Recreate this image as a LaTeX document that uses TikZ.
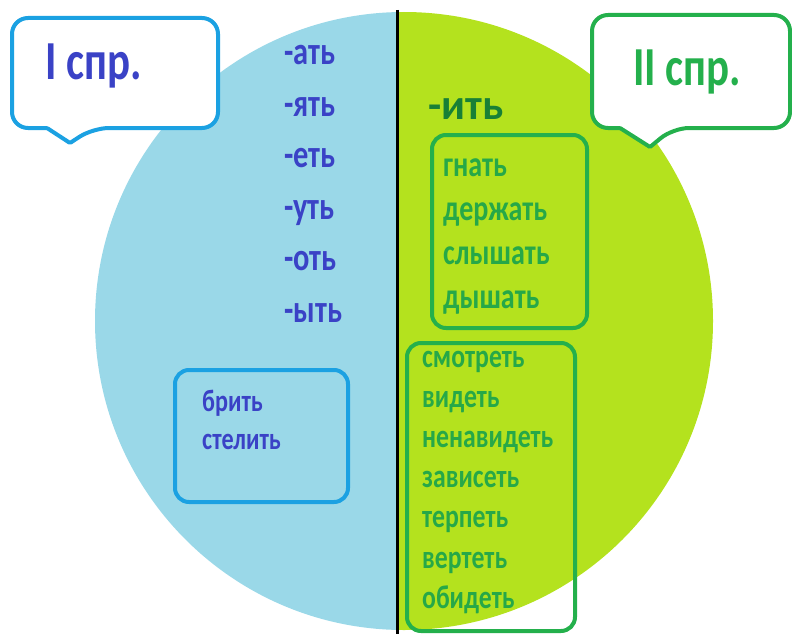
\documentclass[tikz,border=0pt]{standalone}
\usepackage{fontspec}
\setmainfont{Carlito}[FakeStretch=0.78]
\newfontfamily\widefont{Carlito}
\usetikzlibrary{positioning}

\definecolor{skyfill}{RGB}{154,216,232}
\definecolor{limefill}{RGB}{180,226,30}
\definecolor{indigotext}{RGB}{58,66,198}
\definecolor{bluerim}{RGB}{27,161,226}
\definecolor{greenrim}{RGB}{36,176,76}
\definecolor{greentext}{RGB}{38,168,72}
\definecolor{darkgreen}{RGB}{24,128,54}

\begin{document}
\begin{tikzpicture}[x=1pt, y=-1pt,
    word/.style={anchor=base west, inner sep=0pt},
    suffix/.style={word, text=indigotext, font=\bfseries\fontsize{39}{42}\selectfont},
    verbone/.style={word, text=indigotext, font=\bfseries\fontsize{31}{34}\selectfont},
    verbtwo/.style={word, text=greentext, font=\bfseries\fontsize{36}{40}\selectfont},
    verbrest/.style={word, text=greentext, font=\bfseries\fontsize{33}{36}\selectfont},
    title/.style={word, font=\bfseries\fontsize{55}{60}\selectfont},
    bubble/.style={line width=4, rounded corners=16, fill=white},
    frame/.style={line width=4, rounded corners=14}
]
\useasboundingbox (0,0) rectangle (792,634);

% The two halves of the circle
\begin{scope}
    \clip (404,321) circle [radius=309];
    \fill[skyfill] (0,0) rectangle (397,634);
    \fill[limefill] (397,0) rectangle (792,634);
\end{scope}
\draw[line width=3] (397,10) -- (397,634);

% Callouts
\draw[bubble, draw=bluerim] (12,18) -- (218,18) -- (218,128) -- (93,128)
    [rounded corners=1] -- (70,143) -- (47,128) [rounded corners=16] -- (12,128) -- cycle;
\node[title, text=indigotext] (first) at (45,80) {I спр.};

\draw[bubble, draw=greenrim] (592,15) -- (790,15) -- (790,128) -- (673,128)
    [rounded corners=1] -- (650,147) -- (620,128) [rounded corners=16] -- (592,128) -- cycle;
\node[title, text=greenrim] (second) at (633,85) {II спр.};

% Endings of the first conjugation
\foreach \s [count=\i] in {ать,ять,еть,уть,оть,ыть}
    \node[suffix] (suf\i) at (284,{65+51.4*(\i-1)}) {-\s};

% Exceptions in -ить
\draw[frame, draw=bluerim] (175,370) rectangle (348,502);
\node[verbone] (brit) at (202,411) {брить};
\node[verbone] (stelit) at (202,449) {стелить};

% Second conjugation
\node[word, text=darkgreen, font=\widefont\bfseries\fontsize{43}{46}\selectfont] (itt) at (428,119) {-ить};

\draw[frame, draw=greenrim] (432,135) rectangle (587,328);
\foreach \v [count=\i] in {гнать,держать,слышать,дышать}
    \node[verbtwo] (at\i) at (443,{176+44*(\i-1)}) {\v};

\draw[frame, draw=greenrim] (407,343) rectangle (575,631);
\foreach \v [count=\i] in {смотреть,видеть,ненавидеть,зависеть,терпеть,вертеть,обидеть}
    \node[verbrest] (et\i) at (422,{367+40.2*(\i-1)}) {\v};

\end{tikzpicture}
\end{document}
